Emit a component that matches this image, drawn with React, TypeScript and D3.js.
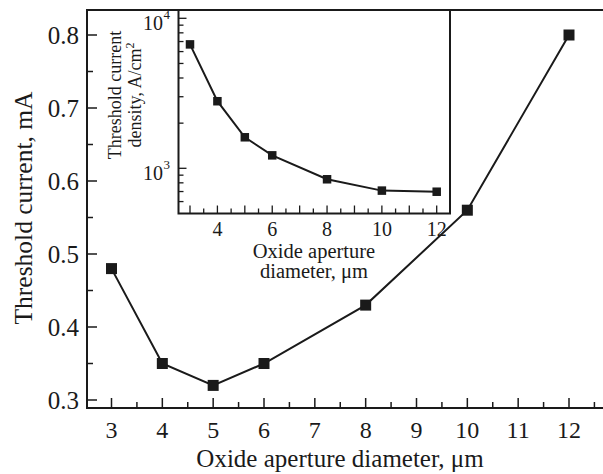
import React from "react";
import * as d3 from "d3";

// Main plot: threshold current vs oxide aperture diameter
const diameters = [3, 4, 5, 6, 8, 10, 12];
const thresholdCurrent = [0.48, 0.35, 0.32, 0.35, 0.43, 0.56, 0.8];
const mainXTicks = [3, 4, 5, 6, 7, 8, 9, 10, 11, 12];
const mainYTicks = [0.3, 0.4, 0.5, 0.6, 0.7, 0.8];

// Inset: threshold current density (log scale)
const currentDensity = [6700, 2800, 1610, 1220, 845, 710, 698];
const insetXTicks = [4, 6, 8, 10, 12];
const insetYMajor = [1000, 10000];
const insetYMinor = [600, 700, 800, 900, 2000, 3000, 4000, 5000, 6000, 7000, 8000, 9000];

const FONT = "'Liberation Serif', 'Times New Roman', serif";
const W = 603;
const H = 474;

export default function App() {
  // main frame
  const left = 87;
  const top = 10;
  const bottom = 408;
  const right = 620;
  const x = d3.scaleLinear().domain([3, 12]).range([111.5, 569]);
  const y = d3.scaleLinear().domain([0.3, 0.8]).range([400, 35]);

  // inset frame
  const iLeft = 178.5;
  const iRight = 450;
  const iTop = 10;
  const iBottom = 213.5;
  const ix = d3.scaleLinear().domain([3, 12]).range([190, 436.7]);
  const iy = d3.scaleLog().domain([1000, 10000]).range([168.3, 18.3]);

  const mainLine = d3
    .line<number>()
    .x((_, i) => x(diameters[i]))
    .y((v) => y(v));
  const insetLine = d3
    .line<number>()
    .x((_, i) => ix(diameters[i]))
    .y((v) => iy(v));

  const xMinor = d3.range(3, 12.51, 0.5).filter((v) => v % 1 !== 0);
  const yMinor = d3.range(0.35, 0.8, 0.1);
  const ixHalf = d3.range(3, 12.01, 0.5).filter((v) => v % 1 !== 0);

  const ms = 11;
  const ims = 8.5;

  return (
    <svg
      width={W}
      height={H}
      style={{ position: "absolute", left: 0, top: 0, background: "#fff" }}
      fontFamily={FONT}
    >
      <rect x={0} y={0} width={W} height={H} fill="#fff" />
      {/* main frame */}
      <path
        d={`M${right},${top} H${left} V${bottom} H${right}`}
        fill="none"
        stroke="#1a1a1a"
        strokeWidth={2}
      />
      {/* main x ticks */}
      {mainXTicks.map((t) => (
        <g key={"mx" + t}>
          <line x1={x(t)} x2={x(t)} y1={bottom} y2={bottom - 10} stroke="#1a1a1a" strokeWidth={1.5} />
          <text x={x(t)} y={438} fontSize={24} textAnchor="middle" fill="#1a1a1a">
            {t}
          </text>
        </g>
      ))}
      {xMinor.map((t) => (
        <line key={"mxm" + t} x1={x(t)} x2={x(t)} y1={bottom} y2={bottom - 6} stroke="#1a1a1a" strokeWidth={1.5} />
      ))}
      {/* main y ticks */}
      {mainYTicks.map((t) => (
        <g key={"my" + t}>
          <line x1={left} x2={left + 10} y1={y(t)} y2={y(t)} stroke="#1a1a1a" strokeWidth={1.5} />
          <text x={79} y={y(t) + 9} fontSize={25} textAnchor="end" fill="#1a1a1a">
            {t.toFixed(1)}
          </text>
        </g>
      ))}
      {yMinor.map((t) => (
        <line key={"mym" + t} x1={left} x2={left + 6} y1={y(t)} y2={y(t)} stroke="#1a1a1a" strokeWidth={1.5} />
      ))}
      {/* main axis titles */}
      <text x={340} y={467} fontSize={25} textAnchor="middle" fill="#1a1a1a">
        Oxide aperture diameter, μm
      </text>
      <text
        transform={`translate(32,208) rotate(-90)`}
        fontSize={25.5}
        textAnchor="middle"
        fill="#1a1a1a"
      >
        Threshold current, mA
      </text>
      {/* main series */}
      <path d={mainLine(thresholdCurrent) ?? ""} fill="none" stroke="#1a1a1a" strokeWidth={2} />
      {thresholdCurrent.map((v, i) => (
        <rect
          key={"mp" + i}
          x={x(diameters[i]) - ms / 2}
          y={y(v) - ms / 2}
          width={ms}
          height={ms}
          fill="#1a1a1a"
        />
      ))}

      {/* inset */}
      <rect x={iLeft} y={iTop} width={iRight - iLeft} height={iBottom - iTop} fill="#fff" stroke="#1a1a1a" strokeWidth={2} />
      {insetXTicks.map((t) => (
        <text key={"ixl" + t} x={ix(t)} y={236} fontSize={20} textAnchor="middle" fill="#1a1a1a">
          {t}
        </text>
      ))}
      {d3.range(3, 12.01, 1).map((t) => (
        <line key={"ix" + t} x1={ix(t)} x2={ix(t)} y1={iBottom} y2={iBottom - 8} stroke="#1a1a1a" strokeWidth={1.3} />
      ))}
      {ixHalf.map((t) => (
        <line key={"ixm" + t} x1={ix(t)} x2={ix(t)} y1={iBottom} y2={iBottom - 5} stroke="#1a1a1a" strokeWidth={1.3} />
      ))}
      {insetYMajor.map((t) => (
        <g key={"iy" + t}>
          <line x1={iLeft} x2={iLeft + 8} y1={iy(t)} y2={iy(t)} stroke="#1a1a1a" strokeWidth={1.3} />
          <text x={163} y={iy(t) + 12} fontSize={20} textAnchor="end" fill="#1a1a1a">
            10
          </text>
          <text x={163.5} y={iy(t) + 1} fontSize={13} textAnchor="start" fill="#1a1a1a">
            {Math.round(Math.log10(t))}
          </text>
        </g>
      ))}
      {insetYMinor.map((t) => (
        <line key={"iym" + t} x1={iLeft} x2={iLeft + 5} y1={iy(t)} y2={iy(t)} stroke="#1a1a1a" strokeWidth={1.3} />
      ))}
      <text x={314} y={258} fontSize={20.5} textAnchor="middle" fill="#1a1a1a">
        Oxide aperture
      </text>
      <text x={314} y={278} fontSize={20.5} textAnchor="middle" fill="#1a1a1a">
        diameter, μm
      </text>
      <text transform={`translate(120.5,95) rotate(-90)`} fontSize={18} textAnchor="middle" fill="#1a1a1a">
        Threshold current
      </text>
      <text transform={`translate(141,95) rotate(-90)`} fontSize={18} textAnchor="middle" fill="#1a1a1a">
        density, A/cm
        <tspan fontSize={12} dy={-7}>2</tspan>
      </text>
      <path d={insetLine(currentDensity) ?? ""} fill="none" stroke="#1a1a1a" strokeWidth={2} />
      {currentDensity.map((v, i) => (
        <rect
          key={"ip" + i}
          x={ix(diameters[i]) - ims / 2}
          y={iy(v) - ims / 2}
          width={ims}
          height={ims}
          fill="#1a1a1a"
        />
      ))}
    </svg>
  );
}
